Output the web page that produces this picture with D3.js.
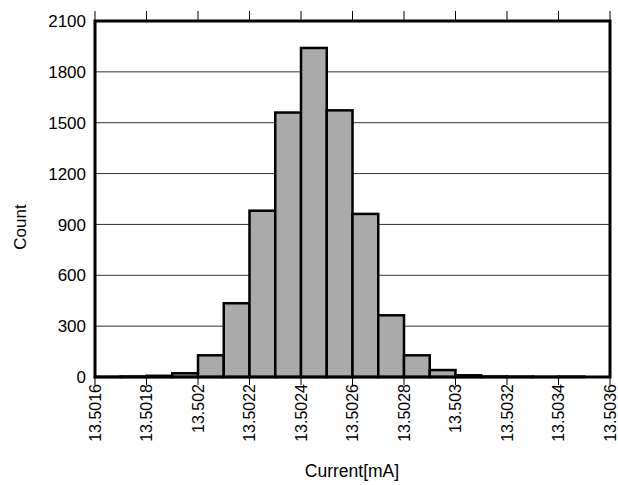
<!DOCTYPE html>
<html lang="en">
<head>
    <meta charset="UTF-8">
    <title>Current Histogram</title>
    <script src="https://d3js.org/d3.v7.min.js"></script>
    <style>
        body { margin: 0; background: #fff; }
        text { font-family: "Liberation Sans", Arial, sans-serif; fill: #000; }
    </style>
</head>
<body>
    <svg id="hist" width="618" height="485"></svg>

    <script>
        // bin start values (mA), bin width 0.0001
        const binStarts = [13.5016, 13.5017, 13.5018, 13.5019, 13.5020, 13.5021, 13.5022, 13.5023, 13.5024, 13.5025,
                           13.5026, 13.5027, 13.5028, 13.5029, 13.5030, 13.5031, 13.5032, 13.5033, 13.5034, 13.5035];
        const counts = [1, 3, 7, 22, 128, 435, 981, 1560, 1941, 1573,
                        962, 364, 128, 41, 10, 3, 2, 1, 2, 0];
        const binWidth = 0.0001;
        const xTicks = [13.5016, 13.5018, 13.5020, 13.5022, 13.5024, 13.5026, 13.5028, 13.5030, 13.5032, 13.5034, 13.5036];
        const xTickLabels = ["13.5016", "13.5018", "13.502", "13.5022", "13.5024", "13.5026", "13.5028", "13.503", "13.5032", "13.5034", "13.5036"];
        const yTicks = [0, 300, 600, 900, 1200, 1500, 1800, 2100];

        const svg = d3.select("#hist"),
            plotL = 95, plotR = 610, plotT = 21, plotB = 377;

        const x = d3.scaleLinear().domain([13.5016, 13.5036]).range([plotL, plotR]);
        const y = d3.scaleLinear().domain([0, 2100]).range([plotB, plotT]);

        // horizontal grid
        svg.append("g").selectAll("line")
            .data(yTicks.slice(1, -1))
            .enter().append("line")
            .attr("x1", plotL).attr("x2", plotR)
            .attr("y1", d => y(d)).attr("y2", d => y(d))
            .attr("stroke", "#333")
            .attr("stroke-width", 1);

        // bars
        svg.append("g").selectAll("rect")
            .data(binStarts.map((s, i) => ({start: s, count: counts[i]})))
            .enter().append("rect")
            .attr("x", d => x(d.start))
            .attr("width", d => x(d.start + binWidth) - x(d.start))
            .attr("y", d => y(d.count))
            .attr("height", d => y(0) - y(d.count))
            .attr("fill", "#aaaaaa")
            .attr("stroke", "#000")
            .attr("stroke-width", 2.5);

        // tick marks above and below the frame
        const tickG = svg.append("g");
        xTicks.forEach(t => {
            tickG.append("line")
                .attr("x1", x(t)).attr("x2", x(t))
                .attr("y1", plotT - 10).attr("y2", plotT)
                .attr("stroke", "#000").attr("stroke-width", 1);
            tickG.append("line")
                .attr("x1", x(t)).attr("x2", x(t))
                .attr("y1", plotB).attr("y2", plotB + 8)
                .attr("stroke", "#000").attr("stroke-width", 1);
        });

        // frame
        svg.append("rect")
            .attr("x", plotL).attr("y", plotT)
            .attr("width", plotR - plotL).attr("height", plotB - plotT)
            .attr("fill", "none")
            .attr("stroke", "#000")
            .attr("stroke-width", 3);

        // y labels
        svg.append("g").selectAll("text")
            .data(yTicks)
            .enter().append("text")
            .attr("x", plotL - 9)
            .attr("y", d => y(d))
            .attr("dy", "0.36em")
            .attr("text-anchor", "end")
            .attr("font-size", 17)
            .text(d => d);

        // x labels, rotated
        svg.append("g").selectAll("text")
            .data(xTicks)
            .enter().append("text")
            .attr("transform", d => `translate(${x(d)},${plotB + 7}) rotate(-90)`)
            .attr("dy", "0.36em")
            .attr("text-anchor", "end")
            .attr("font-size", 16)
            .text((d, i) => xTickLabels[i]);

        svg.append("text")
            .attr("transform", `translate(20,227) rotate(-90)`)
            .attr("dy", "0.36em")
            .attr("text-anchor", "middle")
            .attr("font-size", 17)
            .text("Count");

        svg.append("text")
            .attr("x", 352)
            .attr("y", 477)
            .attr("text-anchor", "middle")
            .attr("font-size", 17.5)
            .text("Current[mA]");
    </script>
</body>
</html>
